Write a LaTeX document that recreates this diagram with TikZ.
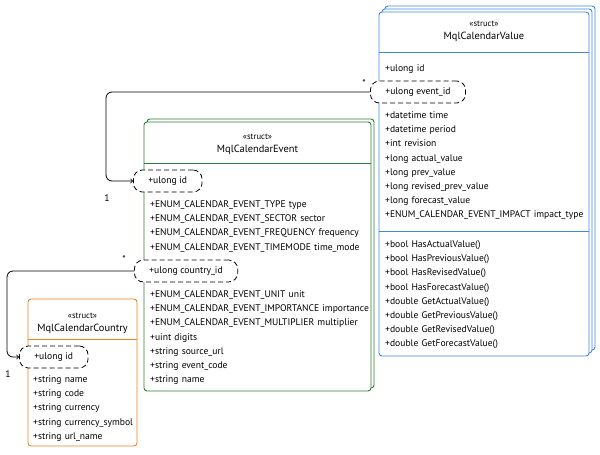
\documentclass[tikz,border=0pt]{standalone}
\usepackage{fontspec}
\setmainfont{PT Sans}
\usetikzlibrary{positioning,shadows}
\definecolor{valblue}{RGB}{60,136,228}
\definecolor{evgreen}{RGB}{46,125,50}
\definecolor{coorange}{RGB}{239,128,30}

\begin{document}
\begin{tikzpicture}[x=1pt, y=-1pt, node distance=14.2pt]
    \tikzstyle{row} = [inner sep=0pt, text width=240pt, align=left, text height=7pt, text depth=2pt, font=\fontsize{9.6}{11}\selectfont]
    \tikzstyle{keyfield} = [rectangle, rounded corners=9pt, draw, dash pattern=on 5pt off 3pt, line width=0.8pt, fill=white, minimum height=22pt, inner xsep=15pt, anchor=west, font=\fontsize{9.6}{11}\selectfont]
    \tikzstyle{stereo} = [inner sep=0pt, font=\fontsize{8.6}{10}\selectfont]
    \tikzstyle{title} = [inner sep=0pt, font=\fontsize{10.4}{12}\selectfont]
    \tikzstyle{mult} = [inner sep=0pt, font=\fontsize{9.6}{11}\selectfont]
    \tikzstyle{link} = [->, rounded corners=6pt, line width=0.8pt]
    \tikzstyle{valueframe} = [rectangle, rounded corners=3pt, draw=valblue, line width=0.9pt, fill=white, minimum width=210pt, minimum height=344pt, inner sep=0pt,
        general shadow={shadow xshift=6pt, shadow yshift=6pt, fill=white, draw=valblue, line width=0.9pt},
        general shadow={shadow xshift=3pt, shadow yshift=3pt, fill=white, draw=valblue, line width=0.9pt}]
    \tikzstyle{eventframe} = [rectangle, rounded corners=3pt, draw=evgreen, line width=0.9pt, fill=white, minimum width=227pt, minimum height=269pt, inner sep=0pt,
        general shadow={shadow xshift=3pt, shadow yshift=3pt, fill=white, draw=evgreen, line width=0.9pt}]
    \tikzstyle{countryframe} = [rectangle, rounded corners=3pt, draw=coorange, line width=0.9pt, fill=white, minimum width=109pt, minimum height=147pt, inner sep=0pt]

    \useasboundingbox (0,0) rectangle (600,455);

    % Frames
    \node [valueframe] (valuebox) at (484,184) {};
    \node [eventframe] (eventbox) at (257.5,256.5) {};
    \node [countryframe] (countrybox) at (82.5,372.5) {};

    % Header rules
    \coordinate (v_head) at (0,52);
    \coordinate (v_split) at (0,231);
    \coordinate (e_head) at (0,163);
    \coordinate (c_head) at (0,339);
    \draw [valblue, line width=0.9pt] (valuebox.west |- v_head) -- (valuebox.east |- v_head);
    \draw [valblue, line width=0.9pt] (valuebox.west |- v_split) -- (valuebox.east |- v_split);
    \draw [evgreen, line width=0.9pt] (eventbox.west |- e_head) -- (eventbox.east |- e_head);
    \draw [coorange, line width=0.9pt] (countrybox.west |- c_head) -- (countrybox.east |- c_head);

    % MqlCalendarValue
    \node [stereo] (v_stereo) at (484,24) {«struct»};
    \node [title, below of=v_stereo, node distance=12.8pt] (v_title) {MqlCalendarValue};
    \node [row, anchor=west] (v_id) at (385,69) {+ulong id};
    \node [keyfield] (v_eventid) at (370,92) {+ulong event\_id};
    \node [row, anchor=west] (v_time) at (385,116) {+datetime time};
    \node [row, below of=v_time] (v_period) {+datetime period};
    \node [row, below of=v_period] (v_revision) {+int revision};
    \node [row, below of=v_revision] (v_actual) {+long actual\_value};
    \node [row, below of=v_actual] (v_prev) {+long prev\_value};
    \node [row, below of=v_prev] (v_revprev) {+long revised\_prev\_value};
    \node [row, below of=v_revprev] (v_forecast) {+long forecast\_value};
    \node [row, below of=v_forecast] (v_impact) {+ENUM\_CALENDAR\_EVENT\_IMPACT impact\_type};
    \node [row, anchor=west] (m_hasactual) at (385,245) {+bool HasActualValue()};
    \node [row, below of=m_hasactual] (m_hasprev) {+bool HasPreviousValue()};
    \node [row, below of=m_hasprev] (m_hasrev) {+bool HasRevisedValue()};
    \node [row, below of=m_hasrev] (m_hasfc) {+bool HasForecastValue()};
    \node [row, below of=m_hasfc] (m_getactual) {+double GetActualValue()};
    \node [row, below of=m_getactual] (m_getprev) {+double GetPreviousValue()};
    \node [row, below of=m_getprev] (m_getrev) {+double GetRevisedValue()};
    \node [row, below of=m_getrev] (m_getfc) {+double GetForecastValue()};

    % MqlCalendarEvent
    \node [stereo] (e_stereo) at (257.5,137) {«struct»};
    \node [title, below of=e_stereo, node distance=12.8pt] (e_title) {MqlCalendarEvent};
    \node [keyfield] (e_id) at (133,181) {+ulong id};
    \node [row, anchor=west] (e_type) at (150,205) {+ENUM\_CALENDAR\_EVENT\_TYPE type};
    \node [row, below of=e_type] (e_sector) {+ENUM\_CALENDAR\_EVENT\_SECTOR sector};
    \node [row, below of=e_sector] (e_frequency) {+ENUM\_CALENDAR\_EVENT\_FREQUENCY frequency};
    \node [row, below of=e_frequency] (e_timemode) {+ENUM\_CALENDAR\_EVENT\_TIMEMODE time\_mode};
    \node [keyfield] (e_countryid) at (134,271) {+ulong country\_id};
    \node [row, anchor=west] (e_unit) at (150,295) {+ENUM\_CALENDAR\_EVENT\_UNIT unit};
    \node [row, below of=e_unit] (e_importance) {+ENUM\_CALENDAR\_EVENT\_IMPORTANCE importance};
    \node [row, below of=e_importance] (e_multiplier) {+ENUM\_CALENDAR\_EVENT\_MULTIPLIER multiplier};
    \node [row, below of=e_multiplier] (e_digits) {+uint digits};
    \node [row, below of=e_digits] (e_sourceurl) {+string source\_url};
    \node [row, below of=e_sourceurl] (e_eventcode) {+string event\_code};
    \node [row, below of=e_eventcode] (e_name) {+string name};

    % MqlCalendarCountry
    \node [stereo] (c_stereo) at (82.5,316) {«struct»};
    \node [title, below of=c_stereo, node distance=12.8pt] (c_title) {MqlCalendarCountry};
    \node [keyfield] (c_id) at (19,357) {+ulong id};
    \node [row, anchor=west] (c_name) at (33,380) {+string name};
    \node [row, below of=c_name] (c_code) {+string code};
    \node [row, below of=c_code] (c_currency) {+string currency};
    \node [row, below of=c_currency] (c_symbol) {+string currency\_symbol};
    \node [row, below of=c_symbol] (c_urlname) {+string url\_name};

    % Relations
    \coordinate (v_turn) at (106,92);
    \coordinate (e_turn) at (7,271);
    \draw [link] (v_eventid.west) -- (v_turn) |- (e_id.west);
    \draw [link] (e_countryid.west) -- (e_turn) |- (c_id.west);
    \node [mult] (v_many) at (364,83) {*};
    \node [mult] (e_one) at (107,198) {1};
    \node [mult] (e_many) at (124,259) {*};
    \node [mult] (c_one) at (8,374) {1};
\end{tikzpicture}
\end{document}
